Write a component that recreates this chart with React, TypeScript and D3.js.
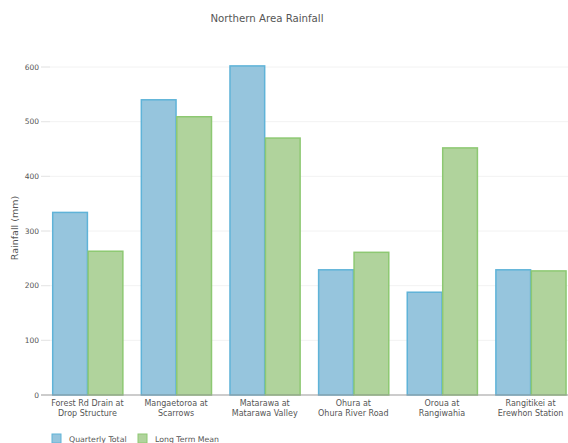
import { useEffect, useRef } from "react";
import * as d3 from "d3";

const sites = [
  ["Forest Rd Drain at", "Drop Structure"],
  ["Mangaetoroa at", "Scarrows"],
  ["Matarawa at", "Matarawa Valley"],
  ["Ohura at", "Ohura River Road"],
  ["Oroua at", "Rangiwahia"],
  ["Rangitikei at", "Erewhon Station"],
];
const quarterlyTotal = [334, 540, 602, 229, 188, 229];
const longTermMean = [263, 509, 470, 261, 452, 227];
const seriesNames = ["Quarterly Total", "Long Term Mean"];
const yTicks = [0, 100, 200, 300, 400, 500, 600];

const fills = ["#96c5dd", "#b0d39c"];
const strokes = ["#5fb3d8", "#8dc872"];

export default function App() {
  const svgRef = useRef<SVGSVGElement>(null);

  useEffect(() => {
    if (!svgRef.current) return;
    const width = 568;
    const height = 443;
    const margin = { top: 67, right: 0, bottom: 48, left: 50 };
    const svg = d3.select(svgRef.current);
    svg.selectAll("*").remove();
    svg.attr("width", width).attr("height", height);
    const font = "DejaVu Sans, Verdana, sans-serif";

    const keys = sites.map((s) => s.join(" "));
    const x = d3.scaleBand()
      .domain(keys)
      .range([margin.left, width - margin.right])
      .paddingInner(0.2)
      .paddingOuter(0.022);
    const xSub = d3.scaleBand()
      .domain(seriesNames)
      .range([0, x.bandwidth()]);
    const y = d3.scaleLinear()
      .domain([0, 600])
      .range([height - margin.bottom, margin.top]);

    svg.append("text")
      .attr("x", 267)
      .attr("y", 22)
      .attr("text-anchor", "middle")
      .attr("fill", "#555")
      .attr("font-size", 10.2)
      .attr("font-family", font)
      .text("Northern Area Rainfall");

    // grid + y ticks
    const gy = svg.append("g");
    gy.selectAll("line.grid")
      .data(yTicks.filter((t) => t > 0))
      .enter()
      .append("line")
      .attr("x1", 41)
      .attr("x2", width)
      .attr("y1", (d) => y(d))
      .attr("y2", (d) => y(d))
      .attr("stroke", "#f2f2f2")
      .attr("stroke-width", 1);
    gy.selectAll("line.tick")
      .data(yTicks)
      .enter()
      .append("line")
      .attr("x1", 41)
      .attr("x2", 50)
      .attr("y1", (d) => y(d))
      .attr("y2", (d) => y(d))
      .attr("stroke", (d) => (d === 0 ? "#999" : "#e6e6e6"));
    gy.selectAll("text")
      .data(yTicks)
      .enter()
      .append("text")
      .attr("x", 39)
      .attr("y", (d) => y(d))
      .attr("dy", "0.35em")
      .attr("text-anchor", "end")
      .attr("fill", "#555")
      .attr("font-size", 7.5)
      .attr("font-family", font)
      .text((d) => d);

    svg.append("text")
      .attr("transform", `translate(18,228) rotate(-90)`)
      .attr("text-anchor", "middle")
      .attr("fill", "#555")
      .attr("font-size", 9.5)
      .attr("font-family", font)
      .text("Rainfall (mm)");

    // bars
    const groups = svg.append("g")
      .selectAll("g")
      .data(keys)
      .enter()
      .append("g")
      .attr("transform", (d) => `translate(${x(d)},0)`);
    groups.selectAll("rect")
      .data((_, i) => [quarterlyTotal[i], longTermMean[i]].map((v, j) => ({ v, j })))
      .enter()
      .append("rect")
      .attr("x", (d) => xSub(seriesNames[d.j])! + 0.75)
      .attr("y", (d) => y(d.v))
      .attr("width", xSub.bandwidth() - 0.75)
      .attr("height", (d) => y(0) - y(d.v))
      .attr("fill", (d) => fills[d.j])
      .attr("stroke", (d) => strokes[d.j])
      .attr("stroke-width", 1.5);

    // x axis
    svg.append("line")
      .attr("x1", margin.left)
      .attr("x2", width)
      .attr("y1", y(0))
      .attr("y2", y(0))
      .attr("stroke", "#999")
      .attr("stroke-width", 1.2);
    const labels = svg.append("g")
      .selectAll("text")
      .data(sites)
      .enter()
      .append("text")
      .attr("text-anchor", "middle")
      .attr("fill", "#555")
      .attr("font-size", 8)
      .attr("font-family", font)
      .attr("transform", (_, i) => `translate(${x(keys[i])! + x.bandwidth() / 2},${y(0) + 11})`);
    labels.selectAll("tspan")
      .data((d) => d)
      .enter()
      .append("tspan")
      .attr("x", 0)
      .attr("dy", (_, i) => (i === 0 ? 0 : 10))
      .text((d) => d);

    // legend
    const legend = svg.append("g")
      .selectAll("g")
      .data(seriesNames)
      .enter()
      .append("g")
      .attr("transform", (_, i) => `translate(${52 + i * 86},434)`);
    legend.append("rect")
      .attr("width", 9)
      .attr("height", 9)
      .attr("fill", (_, i) => fills[i])
      .attr("stroke", (_, i) => strokes[i]);
    legend.append("text")
      .attr("x", 17)
      .attr("y", 7.5)
      .attr("fill", "#555")
      .attr("font-size", 7.8)
      .attr("font-family", font)
      .text((d) => d);
  }, []);

  return <svg ref={svgRef} style={{ position: "absolute", left: 0, top: 0 }}></svg>;
}
